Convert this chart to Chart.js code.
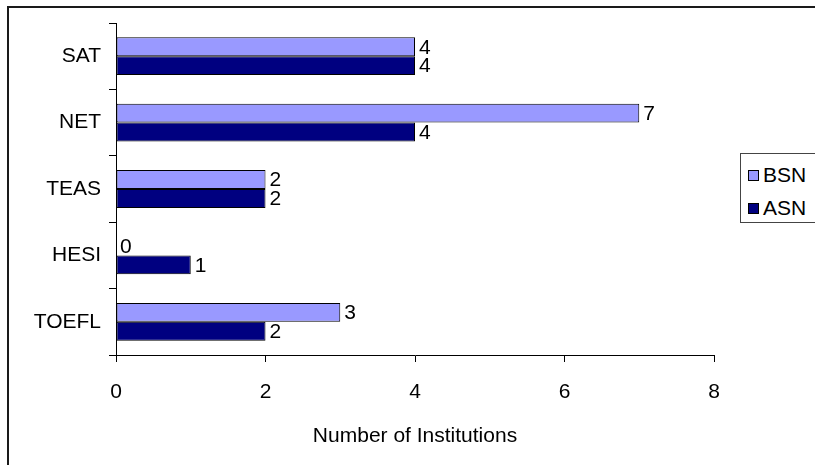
<!DOCTYPE html>
<html>
<head>
<meta charset="utf-8">
<script src="https://cdn.jsdelivr.net/npm/chart.js@4/dist/chart.umd.min.js"></script>
<style>
  html, body { margin: 0; padding: 0; background: #fff; overflow: hidden; width: 815px; height: 465px; }
  #wrap { position: relative; width: 815px; height: 465px; }
  #frame { position: absolute; left: 7px; top: 6px; width: 900px; height: 600px; border: 2px solid #1a1a1a; box-sizing: border-box; }
  canvas { position: absolute; left: 0; top: 0; }
  #legend { position: absolute; left: 740px; top: 153px; width: 120px; height: 70px; border: 1px solid #444; box-sizing: border-box; background: #fff;
            font-family: "Liberation Sans", Arial, sans-serif; font-size: 21px; color: #000; }
  .item { position: absolute; left: 7px; height: 24px; line-height: 24px; white-space: nowrap; }
  .sw { display: inline-block; width: 9px; height: 9px; border: 1px solid #000; margin-right: 4px; vertical-align: 1px; }
</style>
</head>
<body>
<div id="wrap">
  <div id="frame"></div>
  <canvas id="c" width="815" height="465"></canvas>
  <div id="legend"></div>
</div>
<script>
const categories = ['SAT', 'NET', 'TEAS', 'HESI', 'TOEFL'];
const bsnValues = [4, 7, 2, 0, 3];
const asnValues = [4, 4, 2, 1, 2];
const seriesNames = ['BSN', 'ASN'];
const seriesColors = ['#9999FF', '#000080'];
const xTickMax = 8;
const xTickStep = 2;
const axisTitle = 'Number of Institutions';

const FONT = "'Liberation Sans', Arial, sans-serif";
const FS = 21;

const valueLabels = {
  id: 'valueLabels',
  afterDatasetsDraw(chart) {
    const ctx = chart.ctx;
    ctx.save();
    ctx.font = FS + 'px ' + FONT;
    ctx.fillStyle = '#000';
    ctx.textAlign = 'left';
    ctx.textBaseline = 'middle';
    chart.data.datasets.forEach((ds, i) => {
      const meta = chart.getDatasetMeta(i);
      meta.data.forEach((bar, j) => {
        ctx.fillText(String(ds.data[j]), bar.x + 4, bar.y + 1);
      });
    });
    ctx.restore();
  }
};

new Chart(document.getElementById('c'), {
  type: 'bar',
  data: {
    labels: categories,
    datasets: [
      { label: seriesNames[0], data: bsnValues, backgroundColor: seriesColors[0], borderColor: '#000', borderWidth: 1, borderSkipped: false },
      { label: seriesNames[1], data: asnValues, backgroundColor: seriesColors[1], borderColor: '#000', borderWidth: 1, borderSkipped: false }
    ]
  },
  options: {
    indexAxis: 'y',
    responsive: false,
    animation: false,
    devicePixelRatio: 1,
    layout: { padding: { top: 23, right: 101, left: 0, bottom: 0 } },
    categoryPercentage: 0.57,
    barPercentage: 1.0,
    plugins: { legend: { display: false }, tooltip: { enabled: false } },
    scales: {
      x: {
        min: 0, max: xTickMax,
        ticks: { stepSize: xTickStep, color: '#000', font: { family: FONT, size: FS }, padding: 18, maxRotation: 0 },
        grid: { drawOnChartArea: false, drawTicks: true, tickLength: 7, color: '#000', lineWidth: 1 },
        border: { display: true, color: '#000', width: 1 },
        title: { display: true, text: axisTitle, color: '#000', font: { family: FONT, size: FS }, padding: { top: 0, bottom: 16 } },
        afterFit(scale) { scale.height = 110; }
      },
      y: {
        ticks: { color: '#000', font: { family: FONT, size: FS }, padding: 8 },
        grid: { offset: true, drawOnChartArea: false, drawTicks: true, tickLength: 7, color: '#000', lineWidth: 1 },
        border: { display: true, color: '#000', width: 1 },
        afterFit(scale) { scale.width = 116; }
      }
    }
  },
  plugins: [valueLabels]
});

const legend = document.getElementById('legend');
seriesNames.forEach((name, i) => {
  const it = document.createElement('div');
  it.className = 'item';
  it.style.top = (i === 0 ? 9 : 42) + 'px';
  const sw = document.createElement('span');
  sw.className = 'sw';
  sw.style.background = seriesColors[i];
  it.appendChild(sw);
  it.appendChild(document.createTextNode(name));
  legend.appendChild(it);
});
</script>
</body>
</html>
